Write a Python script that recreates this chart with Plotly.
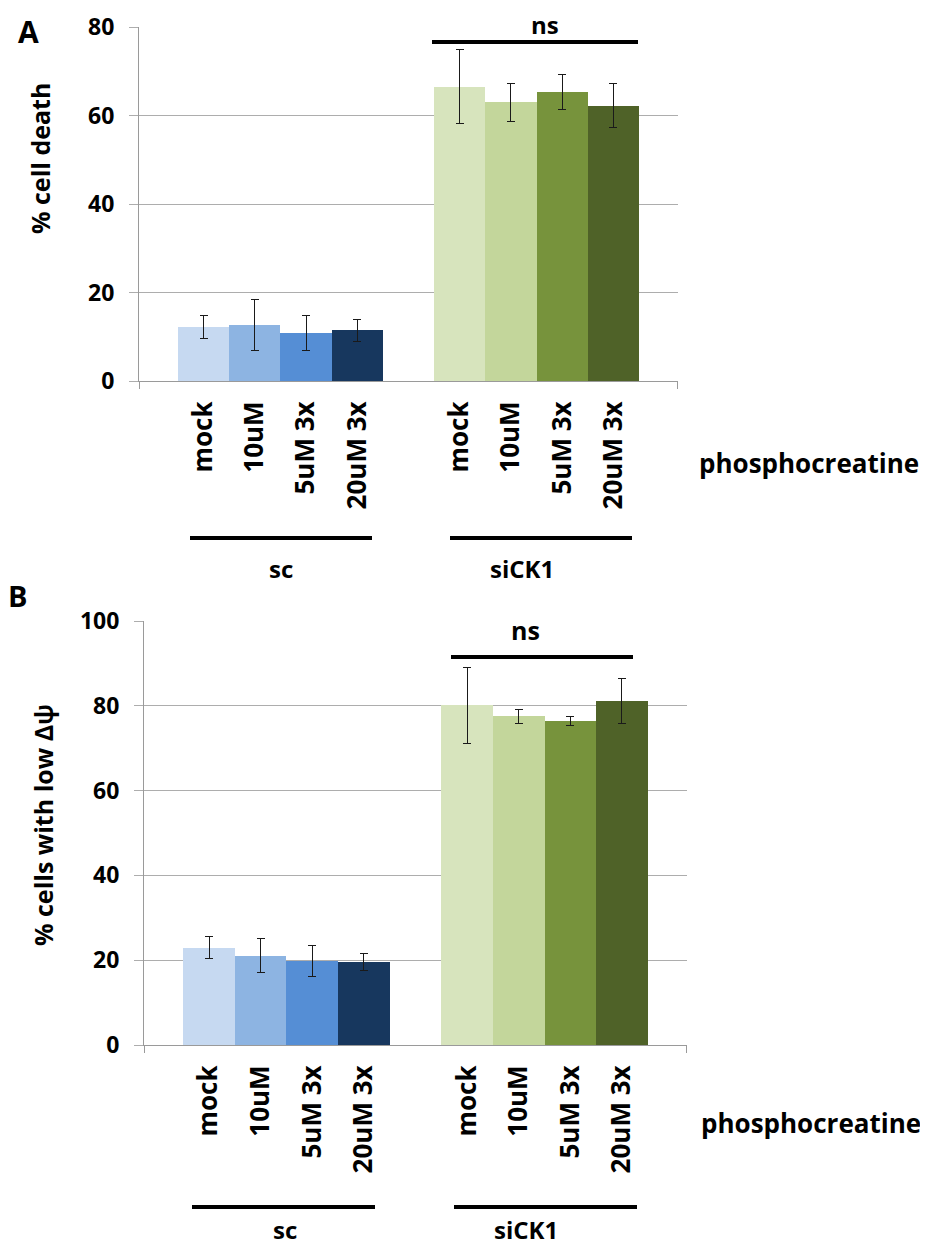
import plotly.graph_objects as go

# ---------------- data ----------------
treatments = ["mock", "10uM", "5uM 3x", "20uM 3x"]
groups = ["sc", "siCK1"]

death_sc = [12.3, 12.7, 10.9, 11.5]
death_sc_err = [2.6, 5.7, 4.0, 2.5]
death_si = [66.5, 63.0, 65.3, 62.2]
death_si_err = [8.4, 4.3, 4.0, 5.0]

psi_sc = [22.9, 21.1, 19.8, 19.6]
psi_sc_err = [2.6, 4.0, 3.6, 2.0]
psi_si = [80.1, 77.5, 76.4, 81.1]
psi_si_err = [9.0, 1.6, 1.1, 5.3]

blues = ["#C6D9F1", "#8DB4E2", "#558ED5", "#17375E"]
greens = ["#D7E4BD", "#C3D69B", "#77933C", "#4F6228"]

# ---------------- layout helpers ----------------
W, H = 928, 1245
OFF = 8  # page body margin
FONT = "Open Sans"


def px(x):
    return (x - OFF) / W


def py(y):
    return 1 - (y - OFF) / H


# bar positions: two groups of four with one empty slot between
pos = [0, 1, 2, 3, 5, 6, 7, 8]
labels = treatments + treatments
colors = blues + greens
XR = [-1.26, 9.26]

fig = go.Figure()

fig.add_trace(go.Bar(
    x=pos, y=death_sc + death_si, width=1,
    marker=dict(color=colors, line=dict(width=0)),
    error_y=dict(type="data", array=death_sc_err + death_si_err,
                 color="#1a1a1a", thickness=1, width=4),
    xaxis="x", yaxis="y", showlegend=False, hoverinfo="skip"))

fig.add_trace(go.Bar(
    x=pos, y=psi_sc + psi_si, width=1,
    marker=dict(color=colors, line=dict(width=0)),
    error_y=dict(type="data", array=psi_sc_err + psi_si_err,
                 color="#1a1a1a", thickness=1, width=4),
    xaxis="x2", yaxis="y2", showlegend=False, hoverinfo="skip"))

grid = "#ADADAD"
axcol = "#9A9A9A"

xcommon = dict(
    range=XR, tickmode="array", tickvals=pos, ticktext=labels,
    tickangle=-90, ticks="", showgrid=False, zeroline=False,
    showline=True, linecolor=axcol, linewidth=1, automargin=False,
    tickfont=dict(family=FONT, size=26, color="black", weight="bold"),
    ticklabelstandoff=9,
    minor=dict(tickmode="array", tickvals=[XR[0] + 0.004, XR[1] - 0.004],
               ticks="outside", ticklen=7, tickcolor=axcol, tickwidth=1),
)
ycommon = dict(
    dtick=20, showgrid=True, gridcolor=grid, gridwidth=1, automargin=False,
    zeroline=False, showline=True, linecolor=axcol, linewidth=1,
    ticks="outside", ticklen=9, tickcolor=grid,
    tickfont=dict(family=FONT, size=23, color="black", weight="bold"),
    ticklabelstandoff=10,
)

fig.update_layout(
    width=W, height=H,
    margin=dict(l=0, r=0, t=0, b=0, autoexpand=False),
    paper_bgcolor="white", plot_bgcolor="white",
    bargap=0,
    xaxis=dict(domain=[px(139), px(678)], anchor="y", **xcommon),
    yaxis=dict(domain=[py(381), py(27)], anchor="x", range=[0, 80], **ycommon),
    xaxis2=dict(domain=[px(144), px(687)], anchor="y2", **xcommon),
    yaxis2=dict(domain=[py(1045), py(621)], anchor="x2", range=[0, 100], **ycommon),
)

bold = lambda s: dict(family=FONT, size=s, color="black", weight="bold")
ann = []
shapes = []


def text(x, y, s, size, angle=0):
    ann.append(dict(x=px(x), y=py(y), xref="paper", yref="paper", text=s,
                    showarrow=False, font=bold(size), textangle=angle,
                    xanchor="center", yanchor="middle", borderpad=0))


def hline(x0, x1, y):
    shapes.append(dict(type="line", xref="paper", yref="paper",
                       x0=px(x0), x1=px(x1), y0=py(y), y1=py(y),
                       line=dict(color="black", width=4)))


# panel letters
text(28, 31, "A", 30)
text(17, 596, "B", 29)

# axis titles
text(40, 159, "% cell death", 25, -90)
text(43, 825, "% cells with low Δψ", 25, -90)

# significance
text(545, 24, "ns", 24)
hline(432, 638, 42)
text(525, 630, "ns", 25)
hline(451, 633, 657)

# x group labels
text(809, 463, "phosphocreatine", 26)
text(811, 1123, "phosphocreatine", 26)

hline(190, 372, 538)
hline(450, 632, 538)
text(281, 569, groups[0], 24)
text(522, 569, groups[1], 24)

hline(192, 375, 1207)
hline(454, 637, 1207)
text(285, 1229, groups[0], 24)
text(526, 1229, groups[1], 24)

fig.update_layout(annotations=ann, shapes=shapes)

fig.write_html("out.html")
